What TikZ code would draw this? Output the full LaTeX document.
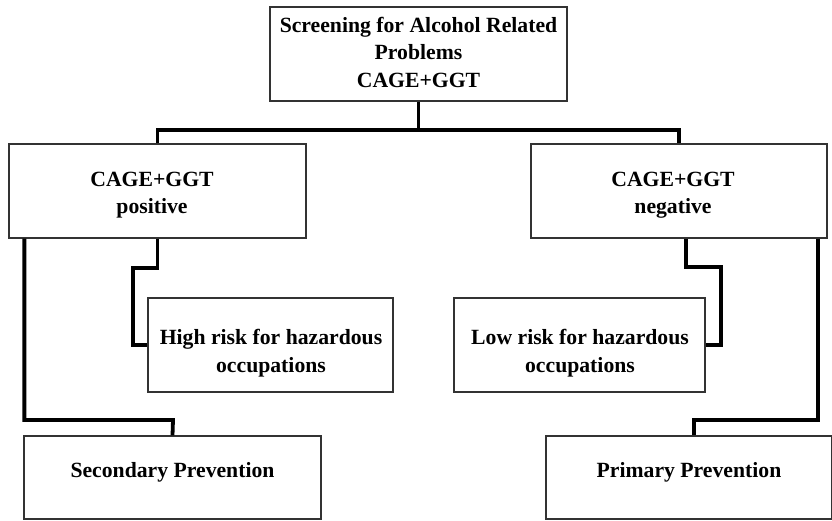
\documentclass[tikz,border=0pt]{standalone}
\usepackage{fontspec}
\setmainfont{Liberation Serif}
\begin{document}
\begin{tikzpicture}[x=1pt,y=-1pt,
  box/.style={draw=black!80,line width=1.3pt,fill=white,inner sep=0pt},
  txt/.style={align=center,font=\fontsize{21.7}{27.5}\selectfont\bfseries,inner sep=0pt},
  conn/.style={line width=3.8pt,line cap=butt,line join=miter}]
\useasboundingbox (0,0) rectangle (832,520);
\fill[white] (0,0) rectangle (832,520);
% boxes
\node[box,minimum width=297,minimum height=94] (top) at (418.5,54) {};
\node[txt] at (418.5,52) {Screening for Alcohol Related\\Problems\\CAGE+GGT};
\node[box,minimum width=297,minimum height=94] (pos) at (157.5,191) {};
\node[txt] at (152,195) {CAGE+GGT\\positive};
\node[box,minimum width=296,minimum height=94] (neg) at (679,191) {};
\node[txt] at (673,195) {CAGE+GGT\\negative};
\node[box,minimum width=245,minimum height=94] (hi) at (270.5,345) {};
\node[txt] at (271,353) {High risk for hazardous\\occupations};
\node[box,minimum width=251,minimum height=94] (lo) at (579.5,345) {};
\node[txt] at (580,353) {Low risk for hazardous\\occupations};
\node[box,minimum width=297,minimum height=83] (sec) at (172.5,477.5) {};
\node[txt] at (172.5,472) {Secondary Prevention};
\node[box,minimum width=286,minimum height=83] (pri) at (689,477.5) {};
\node[txt] at (689,472) {Primary Prevention};
% connectors
\draw[conn] (top.south) -- (418.5,130) coordinate (j);
\draw[conn] (pos.north) |- (j) -| (neg.north);
\draw[conn] (pos.south) |- (133,268) |- (hi.west);
\draw[conn] ([xshift=16]pos.south west) |- (173,420) -- (sec.north);
\draw[conn] ([xshift=7]neg.south) |- (721,267) |- (lo.east);
\draw[conn] ([xshift=-10]neg.south east) |- (694,420) -| ([xshift=5]pri.north);
\end{tikzpicture}
\end{document}
